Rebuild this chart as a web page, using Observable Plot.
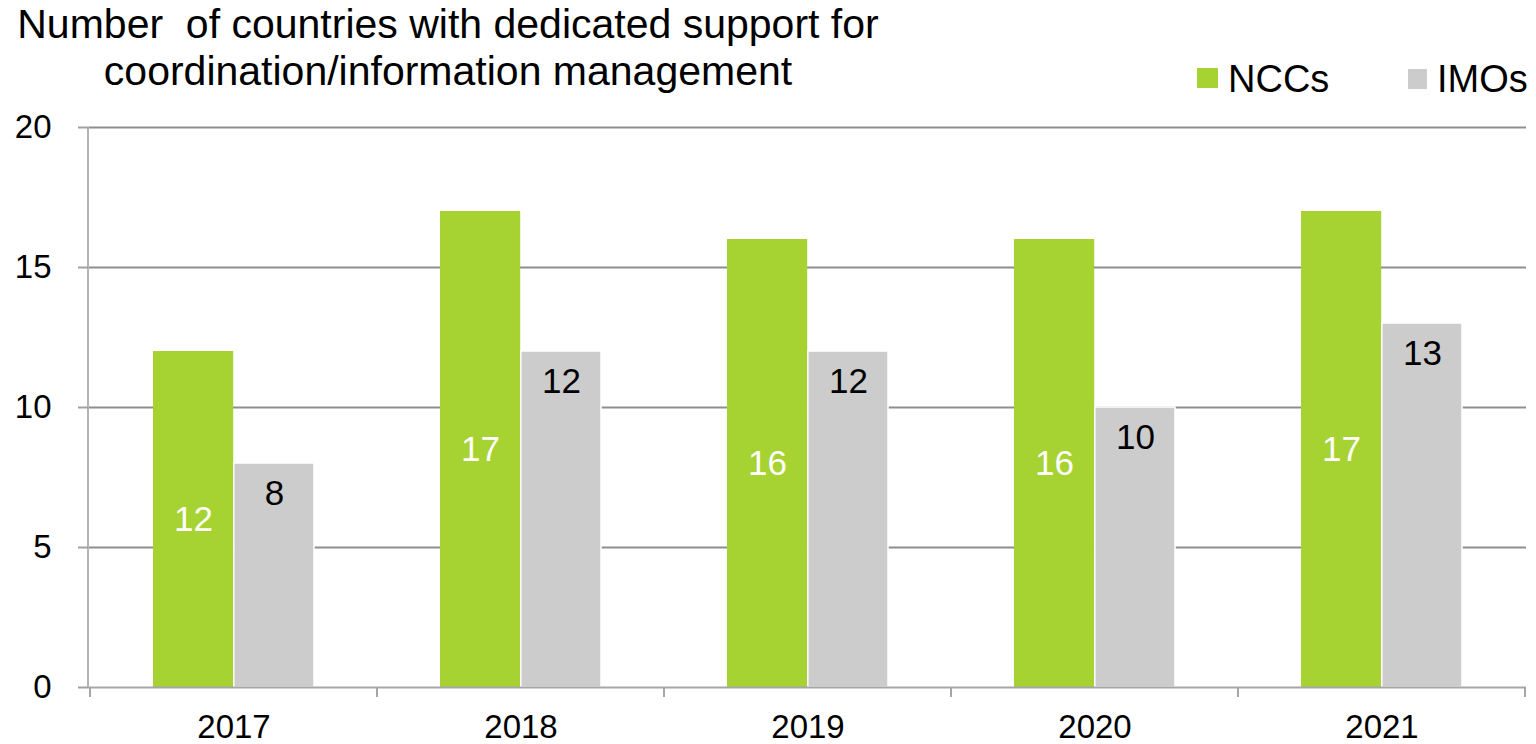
<!DOCTYPE html>
<html>
<head>
<meta charset="utf-8">
<script src="https://cdn.jsdelivr.net/npm/d3@7"></script>
<script src="https://cdn.jsdelivr.net/npm/@observablehq/plot@0.6"></script>
<style>
  html, body { margin: 0; padding: 0; background: #fff; }
  body { font-family: "Liberation Sans", Arial, sans-serif; width: 1536px; height: 744px; overflow: hidden; }
  #header { position: relative; height: 100px; }
  #title { position: absolute; left: 0; top: 1px; width: 896px; text-align: center; font-size: 41px; line-height: 47px; color: #000; }
  .leg { position: absolute; top: 60px; font-size: 38px; line-height: 38px; color: #000; white-space: nowrap; }
  .sw { position: absolute; }
  #chart svg { display: block; }
</style>
</head>
<body>
<div id="header">
  <div id="title">Number&nbsp; of countries with dedicated support for<br>coordination/information management</div>
  <div class="sw" id="sw1" style="left:1197px; top:68px; width:21px; height:20px;"></div>
  <div class="leg" id="lg1" style="left:1228px;"></div>
  <div class="sw" id="sw2" style="left:1408px; top:69px; width:19px; height:20px;"></div>
  <div class="leg" id="lg2" style="left:1437px;"></div>
</div>
<div id="chart"></div>
<script>
const years = ["2017", "2018", "2019", "2020", "2021"];
const nccs = [12, 17, 16, 16, 17];
const imos = [8, 12, 12, 10, 13];
const seriesNames = ["NCCs", "IMOs"];
const seriesColors = ["#a6d232", "#cccccc"];
const yTicks = [0, 5, 10, 15, 20];

document.getElementById("sw1").style.background = seriesColors[0];
document.getElementById("sw2").style.background = seriesColors[1];
document.getElementById("lg1").textContent = seriesNames[0];
document.getElementById("lg2").textContent = seriesNames[1];

const nccData = years.map((y, i) => ({year: y, value: nccs[i]}));
const imoData = years.map((y, i) => ({year: y, value: imos[i]}));

const frameLines = (index, scales, values, dims) => {
  const x = scales.x;
  const ml = dims.marginLeft, mr = dims.marginRight, mt = dims.marginTop, mb = dims.marginBottom;
  const W = dims.width, H = dims.height;
  const bw = x.bandwidth ? x.bandwidth() : (W - ml - mr) / years.length;
  const g = d3.create("svg:g");
  g.append("line").attr("x1", ml).attr("x2", ml).attr("y1", mt).attr("y2", H - mb)
    .attr("stroke", "#b4b4b4").attr("stroke-width", 2);
  const bounds = years.map(y => x(y)).concat([x(years[years.length - 1]) + bw]);
  g.selectAll("line.t").data(bounds).join("line").attr("class", "t")
    .attr("x1", d => d).attr("x2", d => d)
    .attr("y1", H - mb).attr("y2", H - mb + 10)
    .attr("stroke", "#a6a6a6").attr("stroke-width", 2);
  return g.node();
};

const chart = Plot.plot({
  width: 1536,
  height: 644,
  marginTop: 27,
  marginBottom: 57,
  marginLeft: 88,
  marginRight: 10,
  style: {fontFamily: "'Liberation Sans', Arial, sans-serif", background: "white"},
  x: {domain: years, padding: 0, axis: null},
  y: {domain: [0, 20], axis: null},
  marks: [
    Plot.ruleY(yTicks.filter(d => d > 0), {stroke: "#8e8e8e", strokeWidth: 2}),
    Plot.barY(nccData, {x: "year", y: "value", fill: seriesColors[0], insetLeft: 63, insetRight: 143.8}),
    Plot.barY(imoData, {x: "year", y: "value", fill: seriesColors[1], stroke: "white", strokeWidth: 1.5, insetLeft: 143.8, insetRight: 63}),
    Plot.ruleY([0], {stroke: "#a6a6a6", strokeWidth: 2}),
    frameLines,
    Plot.axisY({ticks: yTicks, tickSize: 10, tickPadding: 27, stroke: "#a0a0a0", strokeWidth: 2, fill: "black", fontSize: 33, label: null, tickFormat: d => String(d)}),
    Plot.axisX({tickSize: 0, tickPadding: 27, fill: "black", fontSize: 33, label: null}),
    Plot.text(nccData, {x: "year", y: d => d.value / 2, text: d => String(d.value), dx: -40.5, fill: "white", fontSize: 35}),
    Plot.text(imoData, {x: "year", y: "value", text: d => String(d.value), dx: 40.5, dy: 30, fill: "black", fontSize: 35})
  ]
});
document.getElementById("chart").appendChild(chart);
</script>
</body>
</html>
